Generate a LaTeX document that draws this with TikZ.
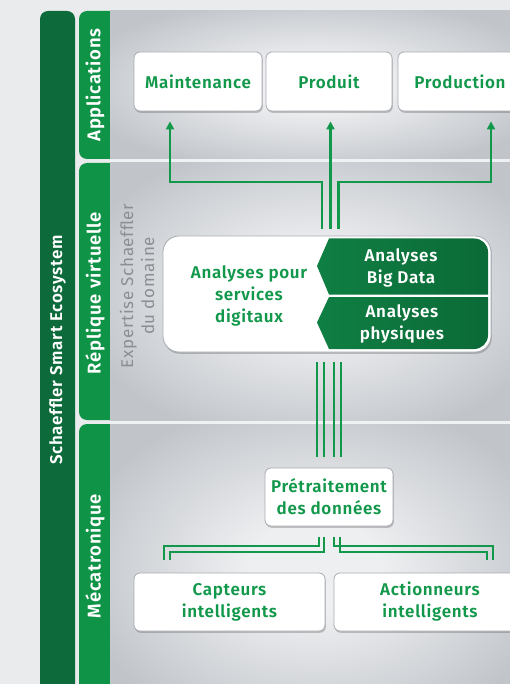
\documentclass[tikz,border=0pt]{standalone}
\usepackage{fontspec}
\setmainfont{Fira Sans}[BoldFont={Fira Sans SemiBold}]
\newfontfamily\spaced{Fira Sans}[BoldFont={Fira Sans SemiBold}, LetterSpace=4]
\usetikzlibrary{shadows,calc,arrows.meta}
\definecolor{bgc}{HTML}{EAEBEC}
\definecolor{gapc}{HTML}{F0F1F2}
\definecolor{pdark}{HTML}{C1C5CA}
\definecolor{plight}{HTML}{EEEFF1}
\definecolor{tabg}{HTML}{0F9347}
\definecolor{barg}{HTML}{0D6B3B}
\definecolor{txtg}{HTML}{12984A}
\definecolor{chevl}{HTML}{0F7F43}
\definecolor{chevd}{HTML}{0B6A37}
\definecolor{greyt}{HTML}{8B8F94}
\definecolor{boxb}{HTML}{A8ACB2}
\pgfdeclareradialshading{panelsh}{\pgfpoint{0bp}{0bp}}{color(0bp)=(plight); color(8bp)=(plight); color(30bp)=(pdark); color(50bp)=(pdark)}
\begin{document}
\begin{tikzpicture}[x=1pt,y=-1pt,
  lbl/.style={font=\spaced\fontsize{17}{22}\selectfont\bfseries, text=txtg, align=center},
  wlbl/.style={font=\spaced\fontsize{17}{22}\selectfont\bfseries, text=white, align=center},
  wbox/.style={draw=boxb, line width=0.8pt, fill=white, rounded corners=6pt,
    drop shadow={shadow xshift=0.8pt, shadow yshift=-1.8pt, opacity=0.3, fill=black!70}},
  garr/.style={draw=txtg, line width=2.2pt, -{Triangle[length=8pt,width=8pt]}},
  gline/.style={draw=txtg, line width=2.2pt},
  tabtext/.style={font=\spaced\fontsize{18.5}{20}\selectfont\bfseries, text=white, rotate=90},
]
\fill[bgc] (0,0) rectangle (510,684);
\clip (0,0) rectangle (510,684);
% bars and tabs
\fill[barg, rounded corners=8pt] (40,11) rectangle (75,710);
\fill[tabg, rounded corners=8pt] (79,11) rectangle (130,159);
\fill[tabg, rounded corners=8pt] (79,163) rectangle (130,420);
\fill[tabg, rounded corners=8pt] (79,424) rectangle (130,710);
% panels
\fill[gapc] (110,159) rectangle (520,163);
\fill[gapc] (110,420) rectangle (520,424);
\shade[shading=panelsh] (110,11) rectangle (520,159);
\shade[shading=panelsh] (110,163) rectangle (520,420);
\shade[shading=panelsh] (110,424) rectangle (520,710);
% rotated labels
\node[font=\spaced\fontsize{17}{18}\selectfont\bfseries, text=white, rotate=90] (eco) at (57.5,350) {Schaeffler Smart Ecosystem};
\node[tabtext] (tapp) at (95,85) {Applications};
\node[tabtext] (trep) at (95,293) {Réplique virtuelle};
\node[tabtext] (tmec) at (95,556) {Mécatronique};
\node[font=\spaced\fontsize{17}{21}\selectfont, text=greyt, rotate=90, align=center] (exp) at (137,286) {Expertise Schaeffler\\du domaine};
% application boxes
\node[wbox, minimum width=128pt, minimum height=59pt] (maint) at (198,81.5) {};
\node[lbl] at (maint) {Maintenance};
\node[wbox, minimum width=126pt, minimum height=59pt] (prod) at (329,81.5) {};
\node[lbl] at (prod) {Produit};
\node[wbox, minimum width=124pt, minimum height=59pt] (prodn) at (460,81.5) {};
\node[lbl] at (prodn) {Production};
% big box
\node[wbox, rounded corners=16pt, minimum width=328pt, minimum height=116pt] (big) at (327,294) {};
\shade[left color=chevl, right color=chevd] (329,238.5) -- (317,266) -- (329,294.5) -- (488,294.5) -- (488,252)
  .. controls (488,244.3) and (481.7,238.5) .. (474,238.5) -- cycle;
\shade[left color=chevl, right color=chevd] (329,297) -- (317,322.5) -- (329,349) -- (474,349)
  .. controls (481.7,349) and (488,343) .. (488,335) -- (488,297) -- cycle;
\node[lbl] (asd) at (249,296) {Analyses pour\\services\\digitaux};
\node[wlbl] (bd) at (401,268) {Analyses\\Big Data};
\node[wlbl] (ph) at (402,324) {Analyses\\physiques};
% lower boxes
\node[wbox, minimum width=128pt, minimum height=58pt] (pre) at (329,497) {};
\node[lbl] at (pre) {Prétraitement\\des données};
\node[wbox, minimum width=191pt, minimum height=58pt] (capt) at (229.5,602) {};
\node[lbl] at (capt) {Capteurs\\intelligents};
\node[wbox, minimum width=192pt, minimum height=58pt] (act) at (430,602) {};
\node[lbl] at (act) {Actionneurs\\intelligents};
% top connectors
\coordinate (tl) at ($(big.north)+(-5,-7)$);
\coordinate (tm) at ($(big.north)+(3.5,-7)$);
\coordinate (tr) at ($(big.north)+(11.5,-7)$);
\draw[garr] (tl) |- ($(maint.south)+(-28,71)$) -- ($(maint.south)+(-28,10)$);
\draw[garr] (tm) -- ($(tm |- prod.south)+(0,10)$);
\draw[garr] (tr) |- ($(prodn.south)+(31,71)$) -- ($(prodn.south)+(31,10)$);
% middle connectors
\draw[gline] ($(big.south)+(-10,10)$) -- ($(pre.north)+(-12,-11)$);
\draw[gline] ($(big.south)+(-3,10)$) -- ($(pre.north)+(-5,-11)$);
\draw[gline] ($(big.south)+(7,10)$) -- ($(pre.north)+(5,-11)$);
\draw[gline] ($(big.south)+(14,10)$) -- ($(pre.north)+(12,-11)$);
% bottom brackets
\draw[gline] ($(pre.south)+(-10,11)$) |- ($(capt.north)+(-65.5,-27)$) -- ($(capt.north)+(-65.5,-13)$);
\draw[gline] ($(pre.south)+(-5,11)$) |- ($(capt.north)+(-59.5,-21)$) -- ($(capt.north)+(-59.5,-13)$);
\draw[gline] ($(pre.south)+(5,11)$) |- ($(act.north)+(63,-27)$) -- ($(act.north)+(63,-13)$);
\draw[gline] ($(pre.south)+(11,11)$) |- ($(act.north)+(57,-21)$) -- ($(act.north)+(57,-13)$);
\end{tikzpicture}
\end{document}
